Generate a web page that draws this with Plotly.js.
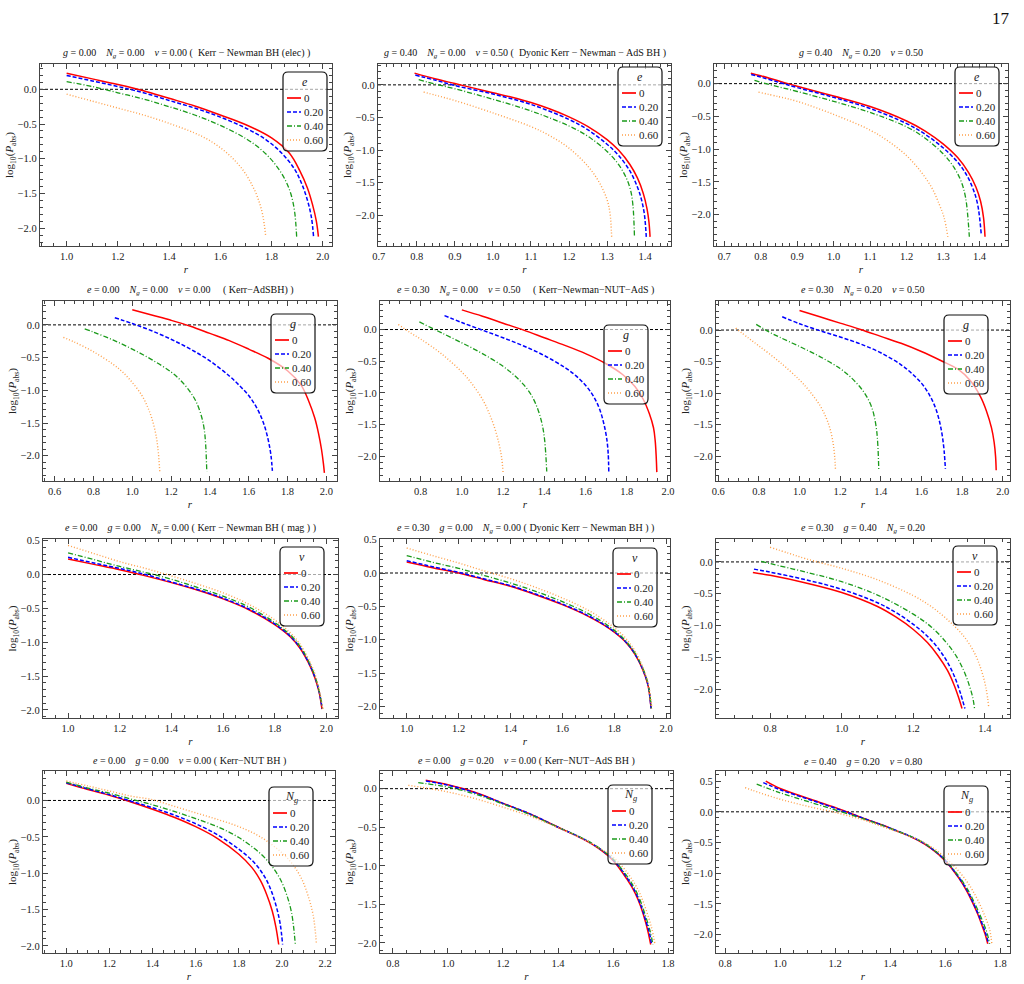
<!DOCTYPE html>
<html><head><meta charset="utf-8">
<script src="https://cdn.plot.ly/plotly-3.0.1.min.js"></script>
<style>html,body{margin:0;padding:0;background:#fff}#chart{width:1024px;height:984px}</style>
</head><body><div id="chart"></div>
<script>
// ---------- labels ----------
const seriesLabels = ['0', '0.20', '0.40', '0.60'];
const legendSymbols = ['<i>e</i>','<i>e</i>','<i>e</i>','<i>g</i>','<i>g</i>','<i>g</i>','<i>v</i>','<i>v</i>','<i>v</i>','<i>N</i><sub><i>g</i></sub>','<i>N</i><sub><i>g</i></sub>','<i>N</i><sub><i>g</i></sub>'];
const S = '\u00a0\u00a0\u00a0\u00a0';
const Ng = '<i>N</i><sub><i>g</i></sub>';
const panelTitles = [
  '<i>g</i> = 0.00'+S+Ng+' = 0.00'+S+'<i>v</i> = 0.00 (\u00a0 Kerr \u2212 Newman BH (elec) )',
  '<i>g</i> = 0.40'+S+Ng+' = 0.00'+S+'<i>v</i> = 0.50 (\u00a0 Dyonic Kerr \u2212 Newman \u2212 AdS BH )',
  '<i>g</i> = 0.40'+S+Ng+' = 0.20'+S+'<i>v</i> = 0.50',
  '<i>e</i> = 0.00'+S+Ng+' = 0.00'+S+'<i>v</i> = 0.00'+S+'\u00a0( Kerr\u2212AdSBH) )',
  '<i>e</i> = 0.30'+S+Ng+' = 0.00'+S+'<i>v</i> = 0.50'+S+'\u00a0( Kerr\u2212Newman\u2212NUT\u2212AdS )',
  '<i>e</i> = 0.30'+S+Ng+' = 0.20'+S+'<i>v</i> = 0.50',
  '<i>e</i> = 0.00'+S+'<i>g</i> = 0.00'+S+Ng+' = 0.00 ( Kerr \u2212 Newman BH ( mag ) )',
  '<i>e</i> = 0.30'+S+'<i>g</i> = 0.00'+S+Ng+' = 0.00 ( Dyonic Kerr \u2212 Newman BH ) )',
  '<i>e</i> = 0.30'+S+'<i>g</i> = 0.40'+S+Ng+' = 0.20',
  '<i>e</i> = 0.00'+S+'<i>g</i> = 0.00'+S+'<i>v</i> = 0.00 ( Kerr\u2212NUT BH )',
  '<i>e</i> = 0.00'+S+'<i>g</i> = 0.20'+S+'<i>v</i> = 0.00 ( Kerr\u2212NUT\u2212AdS BH )',
  '<i>e</i> = 0.40'+S+'<i>g</i> = 0.20'+S+'<i>v</i> = 0.80'
];

// ---------- data: r values and log10(P_abs) values, series 0, 0.20, 0.40, 0.60 ----------
const p1_r = [
  [1.0,1.1,1.2,1.3,1.4,1.5,1.6,1.7,1.8,1.87,1.91,1.94,1.96,1.975,1.983],
  [1.0,1.1,1.2,1.3,1.4,1.5,1.6,1.7,1.78,1.84,1.89,1.92,1.942,1.956,1.964],
  [1.0,1.1,1.2,1.3,1.4,1.5,1.6,1.7,1.76,1.81,1.85,1.875,1.89,1.898],
  [1.0,1.1,1.2,1.3,1.4,1.5,1.55,1.6,1.65,1.69,1.72,1.745,1.765,1.777]];
const p1_y = [
  [0.23,0.15,0.07,-0.02,-0.13,-0.24,-0.37,-0.51,-0.70,-0.92,-1.17,-1.42,-1.66,-1.90,-2.12],
  [0.20,0.12,0.04,-0.05,-0.16,-0.27,-0.40,-0.56,-0.73,-0.92,-1.15,-1.38,-1.62,-1.85,-2.12],
  [0.11,0.04,-0.05,-0.14,-0.25,-0.37,-0.52,-0.71,-0.87,-1.06,-1.28,-1.50,-1.76,-2.12],
  [-0.07,-0.17,-0.27,-0.37,-0.49,-0.63,-0.72,-0.84,-1.00,-1.17,-1.35,-1.55,-1.80,-2.11]];

const p2_r = [
  [0.794,0.85,0.9,0.95,1.0,1.05,1.1,1.15,1.2,1.25,1.3,1.33,1.36,1.38,1.395,1.405,1.41,1.413],
  [0.796,0.85,0.9,1.0,1.1,1.2,1.25,1.3,1.33,1.36,1.38,1.39,1.398,1.403],
  [0.805,0.85,0.9,1.0,1.1,1.2,1.25,1.3,1.33,1.35,1.362,1.368,1.372],
  [0.818,0.85,0.9,1.0,1.1,1.15,1.2,1.25,1.28,1.30,1.308,1.312]];
const p2_y = [
  [0.18,0.09,0.02,-0.05,-0.12,-0.19,-0.27,-0.37,-0.49,-0.64,-0.84,-1.0,-1.22,-1.43,-1.66,-1.90,-2.10,-2.33],
  [0.15,0.07,-0.01,-0.14,-0.30,-0.53,-0.69,-0.91,-1.08,-1.32,-1.57,-1.75,-1.98,-2.33],
  [0.08,0.01,-0.06,-0.22,-0.40,-0.63,-0.79,-1.02,-1.22,-1.42,-1.62,-1.85,-2.33],
  [-0.11,-0.16,-0.24,-0.43,-0.64,-0.78,-0.97,-1.25,-1.50,-1.76,-1.98,-2.33]];

const p3_r = [
  [0.773,0.8,0.85,0.9,1.0,1.1,1.2,1.25,1.3,1.34,1.37,1.39,1.403,1.411,1.415],
  [0.774,0.8,0.85,0.9,1.0,1.1,1.2,1.25,1.3,1.34,1.365,1.383,1.395,1.405],
  [0.783,0.8,0.85,0.9,1.0,1.1,1.2,1.25,1.3,1.33,1.35,1.362,1.372],
  [0.794,0.85,0.9,1.0,1.1,1.15,1.2,1.24,1.27,1.29,1.303,1.313]];
const p3_y = [
  [0.16,0.12,0.04,-0.04,-0.19,-0.35,-0.57,-0.72,-0.92,-1.13,-1.36,-1.58,-1.80,-2.05,-2.34],
  [0.14,0.10,0.02,-0.06,-0.21,-0.38,-0.61,-0.77,-0.98,-1.20,-1.40,-1.62,-1.85,-2.32],
  [0.05,0.02,-0.05,-0.12,-0.27,-0.44,-0.66,-0.83,-1.07,-1.28,-1.50,-1.75,-2.34],
  [-0.13,-0.20,-0.27,-0.47,-0.71,-0.88,-1.10,-1.35,-1.60,-1.85,-2.05,-2.34]];

const p4_r = [
  [1.0,1.1,1.2,1.3,1.4,1.5,1.6,1.7,1.8,1.87,1.91,1.94,1.96,1.975,1.985,1.99],
  [0.91,1.0,1.1,1.2,1.3,1.4,1.5,1.55,1.6,1.64,1.67,1.69,1.705,1.715,1.722],
  [0.755,0.8,0.9,1.0,1.1,1.2,1.25,1.3,1.33,1.355,1.37,1.378,1.384],
  [0.645,0.7,0.8,0.9,0.95,1.0,1.05,1.08,1.1,1.12,1.132,1.142]];
const p4_y = [
  [0.23,0.15,0.07,-0.02,-0.13,-0.24,-0.37,-0.51,-0.70,-0.92,-1.17,-1.42,-1.66,-1.90,-2.12,-2.26],
  [0.11,0.02,-0.09,-0.22,-0.37,-0.55,-0.78,-0.92,-1.08,-1.26,-1.45,-1.63,-1.82,-2.0,-2.23],
  [-0.06,-0.11,-0.23,-0.37,-0.53,-0.72,-0.85,-1.03,-1.18,-1.38,-1.58,-1.82,-2.24],
  [-0.19,-0.26,-0.41,-0.60,-0.72,-0.88,-1.08,-1.26,-1.42,-1.65,-1.88,-2.26]];

const p5_r = [
  [1.0,1.1,1.2,1.3,1.4,1.5,1.6,1.7,1.78,1.84,1.88,1.91,1.93,1.938,1.943,1.946],
  [0.916,1.0,1.1,1.2,1.3,1.4,1.5,1.55,1.6,1.64,1.67,1.69,1.703,1.71,1.713],
  [0.794,0.85,0.9,1.0,1.1,1.2,1.25,1.3,1.34,1.37,1.39,1.402,1.412],
  [0.692,0.75,0.8,0.9,1.0,1.05,1.1,1.13,1.16,1.18,1.193,1.2]];
const p5_y = [
  [0.31,0.21,0.10,-0.01,-0.13,-0.25,-0.38,-0.54,-0.71,-0.90,-1.10,-1.33,-1.55,-1.75,-2.0,-2.25],
  [0.22,0.11,-0.01,-0.13,-0.26,-0.41,-0.60,-0.72,-0.88,-1.06,-1.27,-1.50,-1.72,-1.95,-2.24],
  [0.12,0.03,-0.05,-0.21,-0.38,-0.58,-0.71,-0.87,-1.05,-1.27,-1.50,-1.75,-2.24],
  [0.08,-0.05,-0.15,-0.38,-0.67,-0.86,-1.10,-1.30,-1.56,-1.80,-2.02,-2.25]];

const p6_r = [
  [1.0,1.1,1.2,1.3,1.4,1.5,1.6,1.7,1.78,1.84,1.89,1.92,1.945,1.958,1.965,1.968],
  [0.915,1.0,1.1,1.2,1.3,1.4,1.5,1.55,1.6,1.64,1.67,1.69,1.703,1.712,1.718],
  [0.787,0.85,0.9,1.0,1.1,1.2,1.25,1.3,1.33,1.355,1.37,1.38,1.386,1.39],
  [0.686,0.75,0.8,0.9,1.0,1.05,1.1,1.13,1.15,1.165,1.173,1.177]];
const p6_y = [
  [0.31,0.21,0.11,0.01,-0.10,-0.21,-0.34,-0.49,-0.62,-0.80,-1.05,-1.28,-1.55,-1.78,-2.0,-2.22],
  [0.21,0.10,-0.01,-0.11,-0.22,-0.36,-0.55,-0.68,-0.84,-1.03,-1.24,-1.46,-1.68,-1.92,-2.20],
  [0.09,-0.03,-0.11,-0.26,-0.42,-0.61,-0.74,-0.91,-1.05,-1.22,-1.40,-1.60,-1.85,-2.20],
  [0.03,-0.13,-0.25,-0.50,-0.79,-0.97,-1.19,-1.38,-1.56,-1.78,-2.0,-2.22]];

const p7_r = [
  [1.0,1.1,1.2,1.3,1.4,1.5,1.6,1.7,1.8,1.86,1.9,1.93,1.955,1.972,1.983],
  [1.0,1.1,1.2,1.3,1.4,1.5,1.6,1.7,1.8,1.86,1.9,1.93,1.955,1.972,1.984],
  [1.0,1.1,1.2,1.3,1.4,1.5,1.6,1.7,1.8,1.86,1.9,1.93,1.955,1.972,1.985],
  [1.0,1.1,1.2,1.3,1.4,1.5,1.6,1.7,1.8,1.86,1.9,1.93,1.955,1.972,1.987]];
const p7_y = [
  [0.23,0.15,0.07,-0.02,-0.12,-0.23,-0.36,-0.52,-0.74,-0.92,-1.10,-1.30,-1.52,-1.74,-1.99],
  [0.255,0.17,0.09,0.0,-0.11,-0.22,-0.35,-0.51,-0.73,-0.91,-1.09,-1.29,-1.51,-1.73,-1.985],
  [0.32,0.22,0.12,0.03,-0.07,-0.19,-0.32,-0.48,-0.71,-0.89,-1.07,-1.27,-1.49,-1.72,-1.98],
  [0.43,0.31,0.19,0.09,-0.02,-0.14,-0.27,-0.44,-0.67,-0.86,-1.04,-1.24,-1.46,-1.70,-1.985]];

const p8_r = [
  [1.0,1.1,1.2,1.3,1.4,1.5,1.6,1.7,1.78,1.84,1.88,1.91,1.93,1.942],
  [1.0,1.1,1.2,1.3,1.4,1.5,1.6,1.7,1.78,1.84,1.88,1.91,1.93,1.942],
  [1.0,1.1,1.2,1.3,1.4,1.5,1.6,1.7,1.78,1.84,1.88,1.91,1.93,1.943],
  [1.0,1.1,1.2,1.3,1.4,1.5,1.6,1.7,1.78,1.84,1.88,1.91,1.93,1.945]];
const p8_y = [
  [0.165,0.08,0.0,-0.10,-0.20,-0.33,-0.475,-0.65,-0.83,-1.02,-1.22,-1.45,-1.68,-2.03],
  [0.185,0.095,0.01,-0.09,-0.19,-0.32,-0.465,-0.64,-0.825,-1.015,-1.215,-1.445,-1.675,-2.03],
  [0.26,0.16,0.07,-0.04,-0.15,-0.28,-0.43,-0.61,-0.80,-1.0,-1.20,-1.43,-1.66,-2.03],
  [0.375,0.26,0.15,0.03,-0.085,-0.22,-0.375,-0.56,-0.76,-0.96,-1.17,-1.41,-1.64,-2.03]];

const p9_r = [
  [0.752,0.8,0.9,1.0,1.1,1.15,1.2,1.24,1.27,1.295,1.313,1.326,1.336],
  [0.755,0.8,0.9,1.0,1.1,1.15,1.2,1.24,1.27,1.295,1.315,1.331,1.344],
  [0.775,0.8,0.9,1.0,1.1,1.2,1.25,1.29,1.32,1.342,1.357,1.366,1.371],
  [0.8,0.85,0.9,1.0,1.1,1.2,1.25,1.3,1.34,1.37,1.39,1.403,1.411]];
const p9_y = [
  [-0.165,-0.21,-0.33,-0.48,-0.70,-0.86,-1.06,-1.27,-1.48,-1.70,-1.92,-2.12,-2.30],
  [-0.113,-0.16,-0.28,-0.43,-0.64,-0.79,-0.98,-1.17,-1.36,-1.57,-1.80,-2.05,-2.30],
  [0.01,-0.026,-0.16,-0.31,-0.52,-0.82,-1.02,-1.25,-1.48,-1.72,-1.95,-2.13,-2.30],
  [0.23,0.14,0.05,-0.10,-0.28,-0.53,-0.70,-0.93,-1.16,-1.42,-1.70,-1.98,-2.30]];

const p10_r = [
  [1.0,1.1,1.2,1.3,1.4,1.5,1.6,1.7,1.8,1.86,1.9,1.93,1.955,1.972,1.985],
  [1.0,1.1,1.2,1.3,1.4,1.5,1.6,1.7,1.8,1.87,1.92,1.95,1.975,1.992,2.003],
  [1.0,1.1,1.2,1.3,1.4,1.5,1.6,1.7,1.8,1.9,1.95,1.99,2.02,2.045,2.062],
  [1.0,1.1,1.2,1.3,1.4,1.5,1.6,1.7,1.8,1.9,2.0,2.05,2.09,2.12,2.145,2.16]];
const p10_y = [
  [0.235,0.15,0.07,-0.02,-0.12,-0.23,-0.36,-0.52,-0.74,-0.92,-1.10,-1.30,-1.52,-1.74,-1.98],
  [0.244,0.16,0.08,-0.01,-0.10,-0.20,-0.32,-0.47,-0.67,-0.85,-1.05,-1.24,-1.47,-1.70,-1.98],
  [0.253,0.17,0.10,0.02,-0.06,-0.15,-0.25,-0.36,-0.51,-0.73,-0.89,-1.07,-1.28,-1.55,-1.98],
  [0.267,0.20,0.13,0.06,0.01,-0.08,-0.17,-0.26,-0.36,-0.50,-0.72,-0.88,-1.07,-1.30,-1.58,-1.98]];

const p11_r = [
  [0.919,1.0,1.1,1.2,1.3,1.4,1.5,1.55,1.6,1.65,1.68,1.70,1.72,1.73,1.737],
  [0.92,1.0,1.1,1.2,1.3,1.4,1.5,1.55,1.6,1.65,1.68,1.70,1.72,1.733,1.74],
  [0.892,0.95,1.0,1.1,1.2,1.3,1.4,1.5,1.55,1.6,1.65,1.68,1.70,1.72,1.735,1.745],
  [0.856,0.9,1.0,1.1,1.2,1.3,1.4,1.5,1.55,1.6,1.65,1.68,1.70,1.72,1.74,1.752]];
const p11_y = [
  [0.108,0.05,-0.05,-0.19,-0.33,-0.50,-0.67,-0.78,-0.93,-1.17,-1.35,-1.52,-1.75,-1.90,-2.02],
  [0.10,0.045,-0.055,-0.19,-0.33,-0.50,-0.665,-0.775,-0.92,-1.15,-1.33,-1.50,-1.72,-1.88,-2.02],
  [0.078,0.05,0.02,-0.07,-0.20,-0.34,-0.50,-0.66,-0.77,-0.91,-1.13,-1.30,-1.46,-1.67,-1.85,-2.02],
  [0.043,0.02,-0.043,-0.13,-0.24,-0.36,-0.505,-0.67,-0.77,-0.885,-1.08,-1.24,-1.38,-1.57,-1.80,-2.01]];

const p12_r = [
  [0.948,1.0,1.1,1.2,1.3,1.4,1.5,1.55,1.6,1.65,1.68,1.70,1.72,1.735,1.746,1.755],
  [0.939,1.0,1.1,1.2,1.3,1.4,1.5,1.55,1.6,1.65,1.68,1.70,1.72,1.737,1.749,1.758],
  [0.915,1.0,1.1,1.2,1.3,1.4,1.5,1.55,1.6,1.65,1.68,1.70,1.72,1.74,1.753,1.762],
  [0.873,0.9,1.0,1.1,1.2,1.3,1.4,1.5,1.55,1.6,1.65,1.68,1.70,1.72,1.745,1.762,1.77]];
const p12_y = [
  [0.50,0.38,0.22,0.07,-0.10,-0.265,-0.46,-0.60,-0.795,-1.08,-1.30,-1.48,-1.68,-1.86,-2.0,-2.15],
  [0.476,0.36,0.21,0.06,-0.10,-0.265,-0.455,-0.595,-0.79,-1.07,-1.28,-1.46,-1.66,-1.85,-2.0,-2.15],
  [0.45,0.31,0.17,0.03,-0.11,-0.27,-0.45,-0.59,-0.78,-1.05,-1.25,-1.42,-1.61,-1.82,-1.98,-2.15],
  [0.395,0.35,0.205,0.09,-0.01,-0.13,-0.286,-0.45,-0.57,-0.74,-0.97,-1.14,-1.28,-1.45,-1.70,-1.92,-2.15]];

const allR = [p1_r,p2_r,p3_r,p4_r,p5_r,p6_r,p7_r,p8_r,p9_r,p10_r,p11_r,p12_r];
const allY = [p1_y,p2_y,p3_y,p4_y,p5_y,p6_y,p7_y,p8_y,p9_y,p10_y,p11_y,p12_y];

// ---------- layout geometry (pixels) ----------
const W = 1024, H = 984;
const rowsTB = [[64,246],[301,481],[539,718],[771,953]];
const colsLR = [[[40,332],[378,671],[714,1008]],
                [[43,337],[380,670],[716,1010]],
                [[43,338],[380,670],[716,1010]],
                [[43,335],[380,673],[716,1010]]];
const xRanges = [[0.896,2.036],[0.698,1.468],[0.672,1.478],[0.54,2.055],[0.603,2.01],[0.589,2.036],
                 [0.903,2.045],[0.897,2.015],[0.649,1.47],[0.892,2.246],[0.753,1.818],[0.767,1.836]];
const yRanges = [[-2.255,0.364],[-2.47,0.32],[-2.48,0.30],[-2.385,0.365],[-2.39,0.45],[-2.39,0.46],
                 [-2.12,0.525],[-2.175,0.51],[-2.45,0.36],[-2.097,0.405],[-2.13,0.229],[-2.3,0.665]];
const xDticks = [0.2,0.1,0.1,0.2,0.2,0.2,0.2,0.2,0.2,0.2,0.2,0.2];
const legendBoxes = [[283,72],[618,67],[955,67],[271,314],[604,325],[944,315],
                     [280,547],[613,548],[953,546],[269,787],[608,785],[944,786]];

const styles = [
  {color:'#ff0000', width:1.5, dash:'solid'},
  {color:'#0000ff', width:1.5, dash:'4px,2px'},
  {color:'#1a9a1a', width:1.3, dash:'5px,2px,1px,2px'},
  {color:'#ffa04a', width:1.4, dash:'1px,2px'}
];
const FONT = 'Liberation Serif, Times New Roman, serif';
const AX = '#444';

const traces = [];
const layout = {
  width: W, height: H, margin:{l:0,r:0,t:0,b:0}, showlegend:false,
  paper_bgcolor:'#fff', plot_bgcolor:'#fff', font:{family:FONT, color:'#111', size:11},
  shapes:[], annotations:[]
};
const px = v => v / W, py = v => 1 - v / H;

for (let i = 0; i < 12; i++) {
  const n = i + 1;
  const row = Math.floor(i / 3), col = i % 3;
  const [T, B] = rowsTB[row];
  const [L, R] = colsLR[row][col];
  const xs = n === 1 ? 'x' : 'x' + n, ys = n === 1 ? 'y' : 'y' + n;
  const xa = n === 1 ? 'xaxis' : 'xaxis' + n, ya = n === 1 ? 'yaxis' : 'yaxis' + n;
  for (let k = 0; k < 4; k++) {
    traces.push({x: allR[i][k], y: allY[i][k], xaxis: xs, yaxis: ys, mode:'lines',
      name: seriesLabels[k], line: Object.assign({shape:'spline', smoothing:1}, styles[k]),
      hoverinfo:'skip'});
  }
  const common = {
    ticks:'inside', ticklen:5, tickwidth:1, tickcolor:AX, mirror:'allticks',
    showline:true, linecolor:AX, linewidth:1.3, showgrid:false, zeroline:false,
    tickformat:'.1f', tickfont:{family:FONT, size:10.5, color:'#222'},
    automargin:false, fixedrange:true
  };
  layout[xa] = Object.assign({}, common, {
    domain:[px(L), px(R)], range:xRanges[i], anchor:ys, dtick:xDticks[i], tick0:0,
    minor:{ticks:'inside', ticklen:2.5, tickcolor:AX, dtick: xDticks[i] === 0.1 ? 0.02 : 0.05, showgrid:false},
    title:{text:'<i>r</i>', font:{family:FONT, size:11, color:'#222'}, standoff:4}
  });
  layout[ya] = Object.assign({}, common, {
    domain:[py(B), py(T)], range:yRanges[i], anchor:xs, dtick:0.5, tick0:0,
    minor:{ticks:'inside', ticklen:2.5, tickcolor:AX, dtick:0.1, showgrid:false},
    title:{text:'log<sub>10</sub>(<i>P</i><sub>abs</sub>)', font:{family:FONT, size:11, color:'#222'}, standoff:1}
  });
  // zero reference line
  layout.shapes.push({type:'line', xref: xs + ' domain', x0:0, x1:1, yref: ys, y0:0, y1:0,
    line:{color:'#000', width:1, dash:'3px,2px'}, layer:'below'});
  // panel title
  layout.annotations.push({text: panelTitles[i], xref:'paper', yref:'paper',
    x: px((L + R) / 2), y: py(T - 2), xanchor:'center', yanchor:'bottom', showarrow:false,
    font:{family:FONT, size:10, color:'#111'}});
  // legend box
  const [lx, ly] = legendBoxes[i];
  const bw = 44, bh = 79, rr = 5;
  const x0 = px(lx), x1 = px(lx + bw), y0 = py(ly + bh), y1 = py(ly);
  const rx = rr / W, ry = rr / H;
  layout.shapes.push({type:'path', xref:'paper', yref:'paper', layer:'above',
    path:`M${x0+rx},${y1} L${x1-rx},${y1} Q${x1},${y1} ${x1},${y1-ry} L${x1},${y0+ry} Q${x1},${y0} ${x1-rx},${y0} L${x0+rx},${y0} Q${x0},${y0} ${x0},${y0+ry} L${x0},${y1-ry} Q${x0},${y1} ${x0+rx},${y1} Z`,
    fillcolor:'rgba(255,255,255,0.65)', line:{color:'#111', width:1.2}});
  layout.annotations.push({text: legendSymbols[i], xref:'paper', yref:'paper',
    x: px(lx + bw / 2), y: py(ly + 10), xanchor:'center', yanchor:'middle', showarrow:false,
    font:{family:FONT, size:12, color:'#222'}});
  for (let k = 0; k < 4; k++) {
    const yy = ly + 26 + 14 * k;
    layout.shapes.push({type:'line', xref:'paper', yref:'paper', layer:'above',
      x0: px(lx + 4), x1: px(lx + 18), y0: py(yy), y1: py(yy),
      line:{color:styles[k].color, width:styles[k].width + 0.2, dash:styles[k].dash}});
    layout.annotations.push({text: seriesLabels[k], xref:'paper', yref:'paper',
      x: px(lx + 19), y: py(yy), xanchor:'left', yanchor:'middle', showarrow:false,
      font:{family:FONT, size:11, color:'#222'}});
  }
}
// page number
layout.annotations.push({text:'17', xref:'paper', yref:'paper', x: px(1012), y: py(18),
  xanchor:'right', yanchor:'middle', showarrow:false, font:{family:FONT, size:17, color:'#111'}});

Plotly.newPlot('chart', traces, layout, {displayModeBar:false});
</script>
</body></html>
